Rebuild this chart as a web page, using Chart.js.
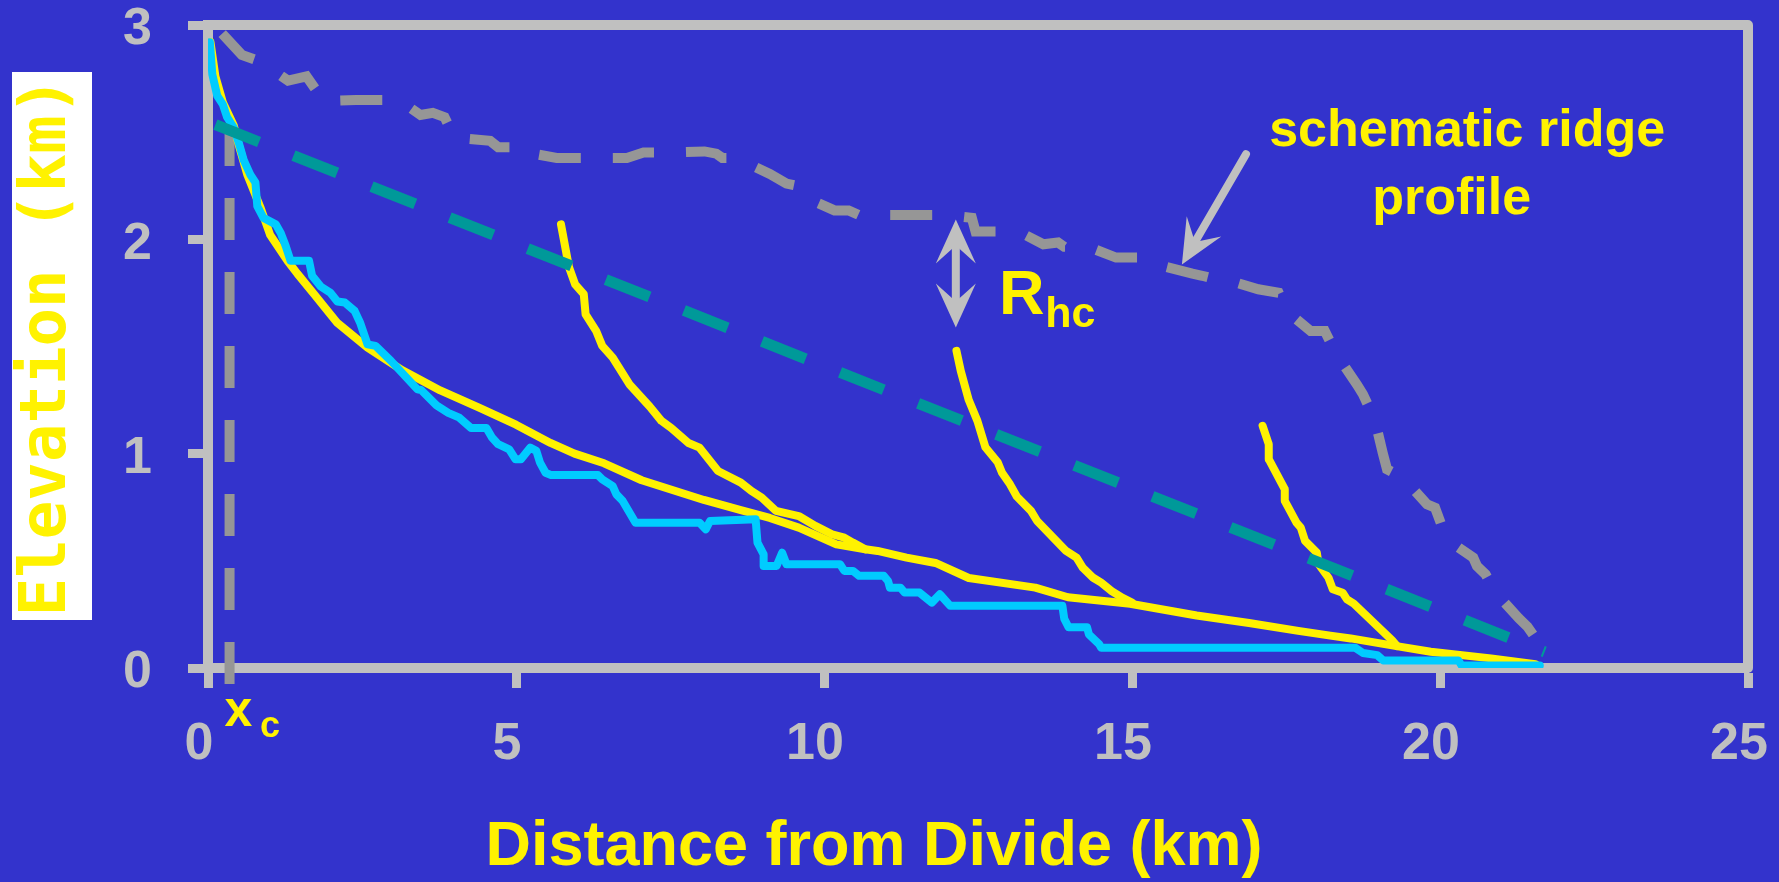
<!DOCTYPE html>
<html>
<head>
<meta charset="utf-8">
<script src="https://cdn.jsdelivr.net/npm/chart.js@4.4.1/dist/chart.umd.min.js"></script>
<style>
  html, body { margin: 0; padding: 0; background: #3333cc; overflow: hidden; }
  canvas { display: block; }
</style>
</head>
<body>
<canvas id="chart" width="1779" height="882"></canvas>
<script>
// Axis ticks
const distTicks = [0, 5, 10, 15, 20, 25];
const elevTicks = [0, 1, 2, 3];

// Schematic ridge profile (km from divide, elevation km)
const ridgeDist = [0.23, 0.55, 0.85, 1.30, 1.60, 1.88, 2.40, 3.10, 3.45, 3.65, 3.84, 4.00, 4.58, 4.71, 5.08, 5.17,
  5.66, 6.80, 7.07, 7.53, 8.06, 8.25, 8.35, 8.58, 8.72, 9.12, 9.39, 9.56, 9.70, 10.17, 10.40, 10.57, 12.00, 12.40,
  12.46, 13.16, 13.56, 13.80, 13.90, 14.29, 14.74, 15.18, 15.38, 15.98, 16.14, 16.47, 16.60, 17.05, 17.38, 17.44,
  17.54, 17.90, 18.13, 18.32, 18.65, 18.75, 18.94, 19.07, 19.14, 19.40, 19.79, 19.92, 20.11, 20.54, 20.60, 20.74,
  20.90, 21.28, 21.42, 21.57, 21.65];
const ridgeElev = [2.96, 2.86, 2.83, 2.74, 2.76, 2.645, 2.65, 2.65, 2.58, 2.59, 2.57, 2.475, 2.46, 2.43, 2.43, 2.405,
  2.38, 2.38, 2.405, 2.405, 2.41, 2.40, 2.38, 2.38, 2.36, 2.305, 2.26, 2.25, 2.195, 2.135, 2.135, 2.113, 2.113, 2.10,
  2.036, 2.036, 1.977, 1.985, 1.965, 1.965, 1.915, 1.915, 1.884, 1.84, 1.83, 1.806, 1.806, 1.767, 1.751, 1.713,
  1.658, 1.572, 1.572, 1.463, 1.323, 1.277, 1.16, 1.004, 0.927, 0.888, 0.764, 0.748, 0.60, 0.515, 0.476, 0.437,
  0.351, 0.232, 0.193, 0.131, 0.085];

// Main channel long profile
const mainDist = [0.04, 0.12, 0.24, 0.42, 0.50, 0.64, 0.85, 1.01, 1.29, 1.45, 1.72, 2.10, 2.59, 3.15, 3.77, 4.40,
  5.00, 5.56, 5.95, 6.43, 7.04, 8.05, 8.65, 9.12, 9.59, 10.20, 10.67, 10.87, 11.34, 11.81, 12.35, 13.43, 13.96,
  14.97, 16.05, 16.90, 17.70, 18.22, 18.55, 19.27, 19.85, 20.83, 21.55];
const mainElev = [2.92, 2.76, 2.64, 2.53, 2.44, 2.30, 2.15, 2.02, 1.90, 1.84, 1.745, 1.61, 1.495, 1.39, 1.295, 1.215,
  1.135, 1.05, 1.00, 0.955, 0.876, 0.784, 0.737, 0.70, 0.655, 0.577, 0.554, 0.546, 0.515, 0.49, 0.42, 0.375, 0.33,
  0.30, 0.245, 0.21, 0.173, 0.151, 0.138, 0.103, 0.076, 0.045, 0.018];

// Stepped profile along the same channel
const stepDist = [0.03, 0.07, 0.15, 0.24, 0.31, 0.42, 0.50, 0.58, 0.69, 0.77, 0.80, 0.90, 1.10, 1.18, 1.26, 1.34,
  1.64, 1.69, 1.83, 1.99, 2.10, 2.22, 2.38, 2.47, 2.59, 2.72, 2.97, 3.40, 3.46, 3.71, 3.90, 4.08, 4.27, 4.52, 4.61,
  4.71, 4.89, 4.99, 5.08, 5.23, 5.33, 5.39, 5.48, 5.57, 6.33, 6.40, 6.57, 6.63, 6.73, 6.94, 7.98, 8.08, 8.15, 8.89,
  8.92, 9.02, 9.02, 9.23, 9.32, 9.39, 10.26, 10.33, 10.47, 10.57, 10.97, 11.04, 11.07, 11.24, 11.31, 11.55, 11.75,
  11.88, 12.05, 13.87, 13.90, 13.97, 14.27, 14.30, 14.47, 14.50, 18.62, 18.75, 18.98, 19.08, 20.30, 20.35, 21.62];
const stepElev = [2.92, 2.77, 2.67, 2.63, 2.57, 2.52, 2.45, 2.37, 2.30, 2.265, 2.155, 2.10, 2.07, 2.03, 1.97, 1.90,
  1.90, 1.83, 1.78, 1.75, 1.71, 1.705, 1.666, 1.611, 1.51, 1.503, 1.433, 1.30, 1.297, 1.225, 1.19, 1.168, 1.12, 1.12,
  1.075, 1.044, 1.02, 0.974, 0.974, 1.028, 1.013, 0.958, 0.911, 0.90, 0.90, 0.88, 0.849, 0.81, 0.78, 0.678, 0.678,
  0.647, 0.686, 0.694, 0.585, 0.53, 0.476, 0.476, 0.538, 0.484, 0.484, 0.453, 0.453, 0.43, 0.43, 0.406, 0.375,
  0.375, 0.352, 0.352, 0.305, 0.344, 0.29, 0.29, 0.23, 0.19, 0.19, 0.157, 0.11, 0.095, 0.095, 0.07, 0.06, 0.035,
  0.035, 0.012, 0.012];

// Tributary profiles joining the main channel
const trib1Dist = [5.73, 5.86, 5.96, 6.10, 6.13, 6.30, 6.40, 6.57, 6.84, 7.17, 7.36, 7.52, 7.80, 7.98, 8.28, 8.65,
  8.82, 8.99, 9.22, 9.59, 9.86, 10.13, 10.33, 10.47, 10.67];
const trib1Elev = [2.07, 1.87, 1.79, 1.744, 1.65, 1.573, 1.503, 1.448, 1.324, 1.22, 1.153, 1.12, 1.05, 1.028, 0.919,
  0.865, 0.826, 0.795, 0.733, 0.709, 0.663, 0.624, 0.608, 0.585, 0.554];
const trib2Dist = [12.15, 12.22, 12.35, 12.49, 12.62, 12.82, 12.89, 13.02, 13.13, 13.36, 13.46, 13.93, 14.10, 14.20,
  14.37, 14.50, 14.67, 14.84, 15.00];
const trib2Elev = [1.48, 1.386, 1.25, 1.153, 1.03, 0.96, 0.911, 0.857, 0.80, 0.733, 0.686, 0.546, 0.515, 0.468,
  0.421, 0.398, 0.359, 0.328, 0.305];
const trib3Dist = [17.12, 17.22, 17.22, 17.48, 17.48, 17.67, 17.74, 17.81, 18.00, 18.03, 18.19, 18.26, 18.42, 18.49,
  18.60, 19.22, 19.30];
const trib3Elev = [1.13, 1.044, 0.974, 0.834, 0.78, 0.678, 0.655, 0.593, 0.538, 0.484, 0.421, 0.367, 0.351, 0.32,
  0.30, 0.13, 0.103];

// Straight reference line and the x_c marker
const lineDist = [0.12, 21.7];
const lineElev = [2.535, 0.075];
const xcDist = [0.35, 0.35];
const xcElev = [-0.075, 2.5];

// Annotation anchors (data units)
const ridgeArrow = { from: [16.85, 2.397], to: [15.81, 1.883] };
const rhcArrow = { x: 12.14, top: 2.093, bottom: 1.589 };

const BG = '#3333cc';
const AXIS = '#c0c0c0';
const YELLOW = '#fff200';
const FONT = '"Liberation Sans", Arial, Helvetica, sans-serif';

const pts = (xs, ys) => xs.map((x, i) => ({ x, y: ys[i] }));

const solid = (label, xs, ys, color, order) => ({
  label, data: pts(xs, ys), borderColor: color, borderWidth: 8, pointRadius: 0,
  borderCapStyle: 'round', borderJoinStyle: 'round', tension: 0, fill: false, order
});

const backdrop = {
  id: 'backdrop',
  beforeDraw(chart) {
    const { ctx, width, height } = chart;
    ctx.save();
    ctx.fillStyle = BG;
    ctx.fillRect(0, 0, width, height);
    // white panel behind the vertical axis title
    ctx.fillStyle = '#ffffff';
    ctx.fillRect(12, 72, 80, 548);
    ctx.restore();
  },
  beforeDatasetsDraw(chart) {
    const { ctx, chartArea: a } = chart;
    ctx.save();
    ctx.strokeStyle = AXIS;
    ctx.lineWidth = 10;
    ctx.lineJoin = 'round';
    ctx.strokeRect(a.left, a.top, a.right - a.left, a.bottom - a.top);
    ctx.restore();
  }
};

function arrowHead(ctx, tx, ty, ux, uy, len, half, notch) {
  const bx = tx - ux * len, by = ty - uy * len;
  const nx = -uy, ny = ux;
  ctx.beginPath();
  ctx.moveTo(tx, ty);
  ctx.lineTo(bx + nx * half, by + ny * half);
  ctx.lineTo(tx - ux * notch, ty - uy * notch);
  ctx.lineTo(bx - nx * half, by - ny * half);
  ctx.closePath();
  ctx.fill();
}

function arrow(ctx, x1, y1, x2, y2, both) {
  const dx = x2 - x1, dy = y2 - y1, L = Math.hypot(dx, dy);
  const ux = dx / L, uy = dy / L;
  const notch = 26;
  ctx.beginPath();
  ctx.moveTo(both ? x1 + ux * notch : x1, both ? y1 + uy * notch : y1);
  ctx.lineTo(x2 - ux * notch, y2 - uy * notch);
  ctx.stroke();
  arrowHead(ctx, x2, y2, ux, uy, 44, 20, notch);
  if (both) arrowHead(ctx, x1, y1, -ux, -uy, 44, 20, notch);
}

const annotations = {
  id: 'annotations',
  afterDatasetsDraw(chart) {
    const { ctx, scales: { x, y } } = chart;
    const px = v => x.getPixelForValue(v);
    const py = v => y.getPixelForValue(v);
    ctx.save();
    ctx.strokeStyle = AXIS;
    ctx.fillStyle = AXIS;
    ctx.lineWidth = 8;
    ctx.lineCap = 'round';
    arrow(ctx, px(ridgeArrow.from[0]), py(ridgeArrow.from[1]), px(ridgeArrow.to[0]), py(ridgeArrow.to[1]), false);
    arrow(ctx, px(rhcArrow.x), py(rhcArrow.top), px(rhcArrow.x), py(rhcArrow.bottom), true);

    ctx.fillStyle = YELLOW;
    ctx.textBaseline = 'alphabetic';
    ctx.textAlign = 'center';
    ctx.font = 'bold 52px ' + FONT;
    ctx.fillText('schematic ridge', px(20.44), py(2.435));
    ctx.fillText('profile', px(20.19), py(2.117));

    ctx.textAlign = 'left';
    ctx.font = 'bold 63px ' + FONT;
    ctx.fillText('R', px(12.84), py(1.650));
    ctx.font = 'bold 43px ' + FONT;
    ctx.fillText('hc', px(13.59), py(1.593));

    ctx.font = 'bold 50px ' + FONT;
    ctx.fillText('x', px(0.268), py(-0.271));
    ctx.font = 'bold 36px ' + FONT;
    ctx.fillText('c', px(0.844), py(-0.321));
    ctx.restore();
  }
};

const tickFont = { family: FONT, weight: 'bold', size: 52 };

new Chart(document.getElementById('chart'), {
  type: 'line',
  data: {
    datasets: [
      {
        label: 'reference line', data: pts(lineDist, lineElev), borderColor: '#009999', borderWidth: 11,
        borderDash: [47, 37], borderCapStyle: 'butt', pointRadius: 0, fill: false, order: 0
      },
      solid('tributary 1', trib1Dist, trib1Elev, YELLOW, 1),
      solid('tributary 2', trib2Dist, trib2Elev, YELLOW, 1),
      solid('tributary 3', trib3Dist, trib3Elev, YELLOW, 1),
      solid('stepped profile', stepDist, stepElev, '#00ccff', 2),
      solid('main profile', mainDist, mainElev, YELLOW, 3),
      {
        label: 'schematic ridge profile', data: pts(ridgeDist, ridgeElev), borderColor: '#969696', borderWidth: 10,
        borderDash: [42, 32], borderCapStyle: 'butt', borderJoinStyle: 'miter', pointRadius: 0, fill: false, order: 4
      },
      {
        label: 'x_c', data: pts(xcDist, xcElev), borderColor: '#969696', borderWidth: 10,
        borderDash: [42, 32], borderCapStyle: 'butt', pointRadius: 0, fill: false, clip: false, order: 5
      }
    ]
  },
  options: {
    responsive: false,
    animation: false,
    events: [],
    layout: { padding: { top: 25, right: 31, left: 0, bottom: 0 } },
    plugins: {
      legend: { display: false },
      tooltip: { enabled: false },
      title: {
        display: true, position: 'bottom', text: 'Distance from Divide (km)', color: YELLOW,
        font: { family: FONT, weight: 'bold', size: 63, lineHeight: 1.1 }, padding: { top: 0, bottom: 0 }
      }
    },
    scales: {
      x: {
        type: 'linear', min: distTicks[0], max: distTicks[distTicks.length - 1],
        afterBuildTicks(scale) { scale.ticks = distTicks.map(v => ({ value: v })); },
        ticks: { color: AXIS, font: tickFont, padding: 25, labelOffset: -9, maxRotation: 0, autoSkip: false },
        grid: { drawOnChartArea: false, drawTicks: true, tickLength: 20, tickWidth: 9, tickColor: AXIS },
        border: { display: true, width: 10, color: AXIS },
        afterFit(scale) { scale.height = 144.7; scale.paddingLeft = 0; scale.paddingRight = 0; }
      },
      y: {
        type: 'linear', min: elevTicks[0], max: elevTicks[elevTicks.length - 1],
        afterBuildTicks(scale) { scale.ticks = elevTicks.map(v => ({ value: v })); },
        ticks: { color: AXIS, font: tickFont, padding: 36, labelOffset: 5, autoSkip: false },
        grid: { drawOnChartArea: false, drawTicks: true, tickLength: 20, tickWidth: 9, tickColor: AXIS },
        border: { display: true, width: 10, color: AXIS },
        title: {
          display: true, text: 'Elevation (km)', color: YELLOW,
          font: { family: '"DejaVu Sans Mono", monospace', weight: 'bold', size: 64, lineHeight: 1.2 },
          padding: { top: 10, bottom: 0 }
        },
        afterFit(scale) { scale.width = 208; scale.paddingTop = 0; scale.paddingBottom = 0; }
      }
    }
  },
  plugins: [backdrop, annotations]
});
</script>
</body>
</html>
